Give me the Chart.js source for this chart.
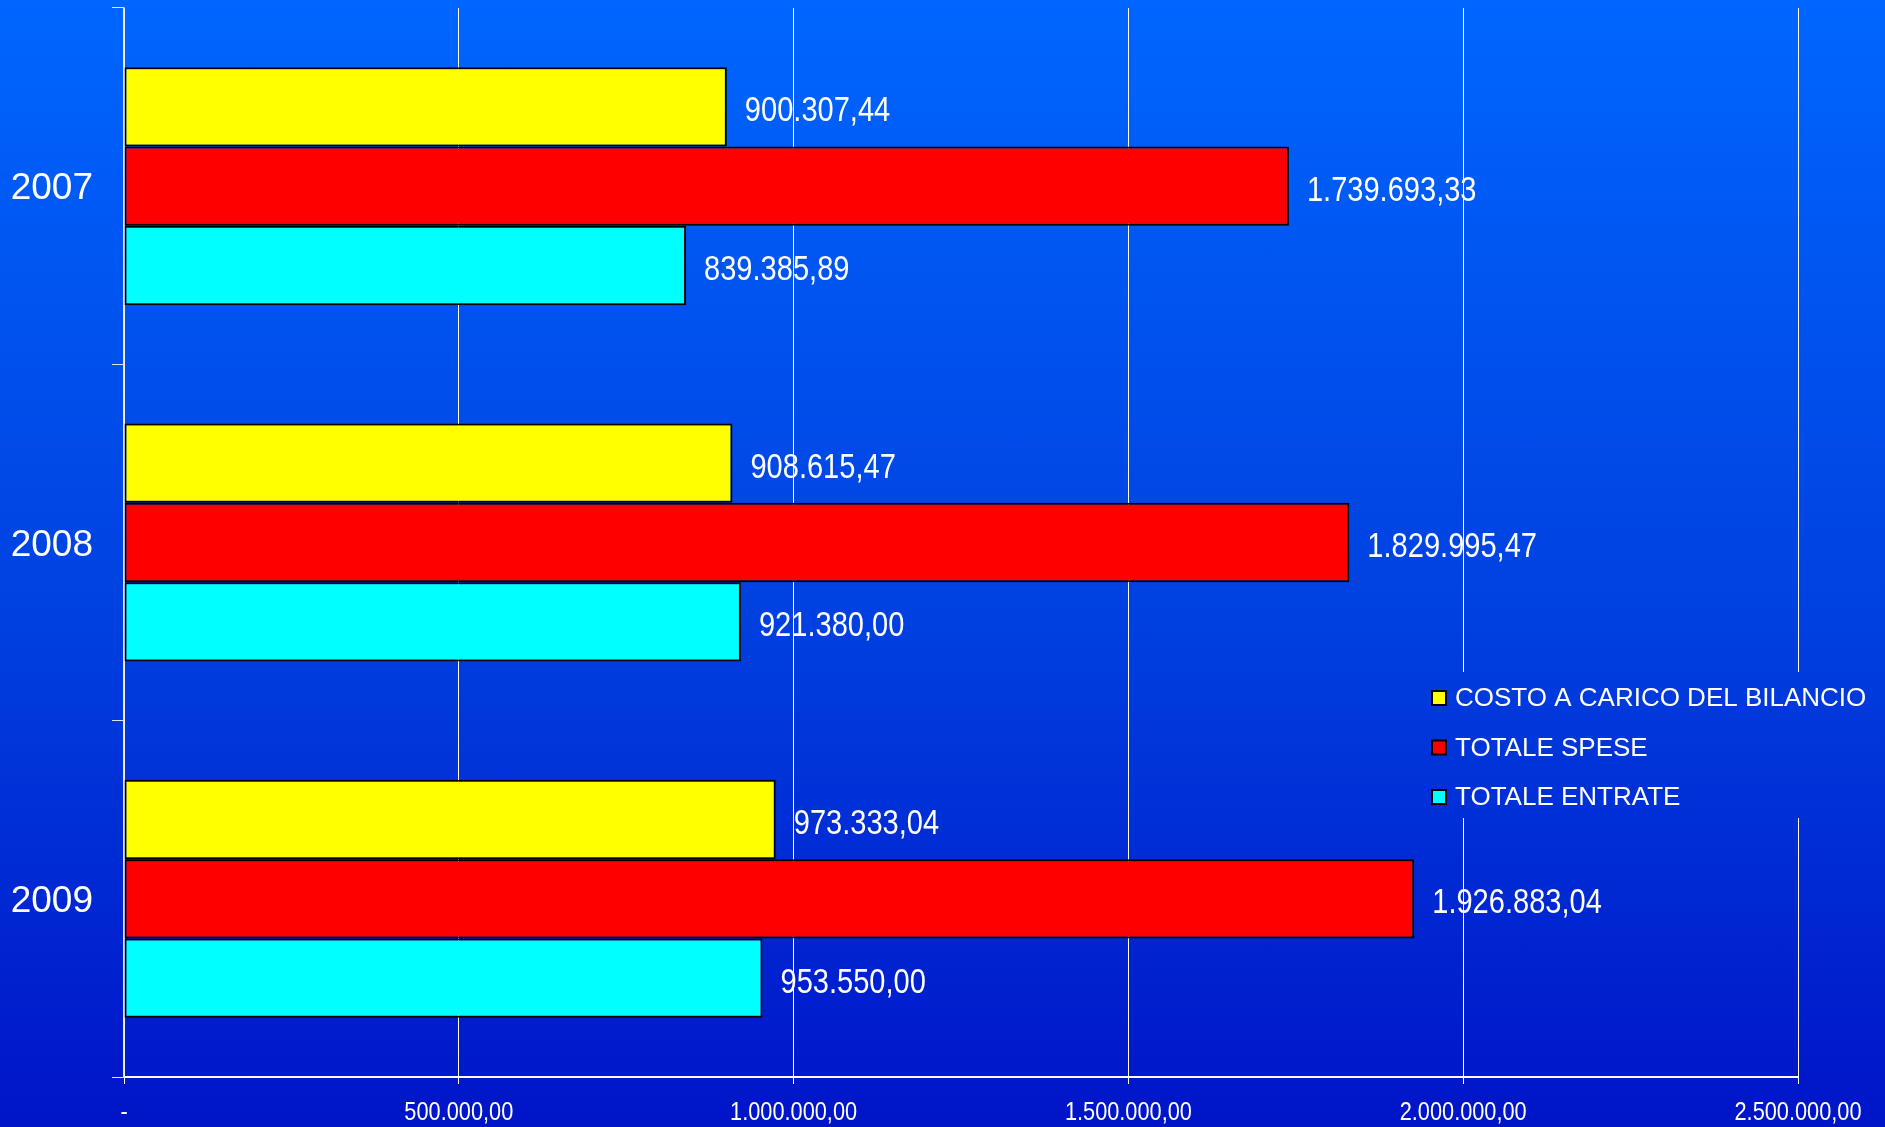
<!DOCTYPE html>
<html>
<head>
<meta charset="utf-8">
<script src="https://cdn.jsdelivr.net/npm/chart.js@4/dist/chart.umd.min.js"></script>
<style>
  html, body { margin: 0; padding: 0; }
  body {
    width: 1885px; height: 1127px; overflow: hidden;
    background: linear-gradient(to bottom, #0066ff 0%, #0040e0 55%, #0014c8 100%);
  }
  #wrap { position: relative; width: 1885px; height: 1127px; }
</style>
</head>
<body>
<div id="wrap"><canvas id="c" width="1885" height="1127"></canvas></div>
<script>
const years = ['2007', '2008', '2009'];
const costo = [900307.44, 908615.47, 973333.04];
const spese = [1739693.33, 1829995.47, 1926883.04];
const entrate = [839385.89, 921380.00, 953550.00];
const seriesNames = ['COSTO A CARICO DEL BILANCIO', 'TOTALE SPESE', 'TOTALE ENTRATE'];
const seriesColors = ['#ffff00', '#ff0000', '#00ffff'];
const xMax = 2500000;
const xStep = 500000;

function fmt(v) {
  if (v === 0) return '-';
  const [int, dec] = v.toFixed(2).split('.');
  return int.replace(/\B(?=(\d{3})+(?!\d))/g, '.') + ',' + dec;
}

const SANS = '"Liberation Sans", Arial, sans-serif';

// the original text is a condensed Arial; squeeze it horizontally
function narrowText(ctx, txt, x, y, sx, align) {
  ctx.save();
  ctx.translate(x, y);
  ctx.scale(sx, 1);
  ctx.textAlign = align;
  ctx.fillText(txt, 0, 0);
  ctx.restore();
}

const valueLabels = {
  id: 'valueLabels',
  afterDatasetsDraw(chart) {
    const ctx = chart.ctx;
    ctx.save();
    ctx.fillStyle = '#ffffff';
    ctx.font = '35px ' + SANS;
    ctx.textBaseline = 'middle';
    chart.data.datasets.forEach((ds, i) => {
      chart.getDatasetMeta(i).data.forEach((bar, j) => {
        narrowText(ctx, fmt(ds.data[j]), bar.x + 18, bar.y + 5, 0.83, 'left');
      });
    });
    // x tick labels
    const xs = chart.scales.x;
    ctx.font = '25px ' + SANS;
    xs.ticks.forEach((t) => {
      narrowText(ctx, fmt(t.value), xs.getPixelForValue(t.value), 1113, 0.87, 'center');
    });
    ctx.restore();
  }
};

const boxLegend = {
  id: 'boxLegend',
  afterDraw(chart) {
    const ctx = chart.ctx;
    ctx.save();
    // legend box is filled with the page gradient so it hides grid lines
    const g = ctx.createLinearGradient(0, 0, 0, chart.height);
    g.addColorStop(0, '#0066ff');
    g.addColorStop(0.55, '#0040e0');
    g.addColorStop(1, '#0014c8');
    ctx.fillStyle = g;
    ctx.fillRect(1418, 672, 467, 146);
    ctx.font = '26px ' + SANS;
    ctx.textBaseline = 'middle';
    chart.data.datasets.forEach((ds, i) => {
      const y = 698 + i * 49.5;
      ctx.fillStyle = ds.backgroundColor;
      ctx.fillRect(1432, y - 7, 14, 14);
      ctx.strokeStyle = '#000';
      ctx.lineWidth = 2;
      ctx.strokeRect(1432, y - 7, 14, 14);
      ctx.fillStyle = '#fff';
      ctx.fillText(ds.label, 1455, y + 1);
    });
    ctx.restore();
  }
};

const datasets = [costo, spese, entrate].map((d, i) => ({
  label: seriesNames[i],
  data: d,
  backgroundColor: seriesColors[i],
  borderColor: '#000000',
  borderWidth: 2,
  borderSkipped: false,
  categoryPercentage: 0.668,
  barPercentage: 1.0,
}));

new Chart(document.getElementById('c'), {
  type: 'bar',
  data: { labels: years, datasets },
  plugins: [valueLabels, boxLegend],
  options: {
    indexAxis: 'y',
    responsive: false,
    animation: false,
    layout: { padding: { top: 8, right: 87, left: 0, bottom: 0 } },
    plugins: { legend: { display: false }, tooltip: { enabled: false } },
    scales: {
      x: {
        min: 0, max: xMax,
        ticks: { stepSize: xStep, color: 'rgba(0,0,0,0)', font: { size: 12 } },
        grid: { color: '#ffffff', lineWidth: 1, tickLength: 7, tickColor: '#ffffff' },
        border: { color: '#ffffff', width: 2 },
        afterFit: (s) => { s.height = 50; s.paddingLeft = 0; s.paddingRight = 0; },
      },
      y: {
        offset: true,
        ticks: { color: '#ffffff', padding: 19, labelOffset: 3, font: { family: SANS, size: 37 } },
        grid: { offset: true, drawOnChartArea: false, tickLength: 12, color: '#dde4ff', lineWidth: 1 },
        border: { color: '#dde4ff', width: 1.5 },
        afterFit: (s) => { s.width = 124; s.paddingTop = 0; s.paddingBottom = 0; },
      },
    },
  },
});
</script>
</body>
</html>
